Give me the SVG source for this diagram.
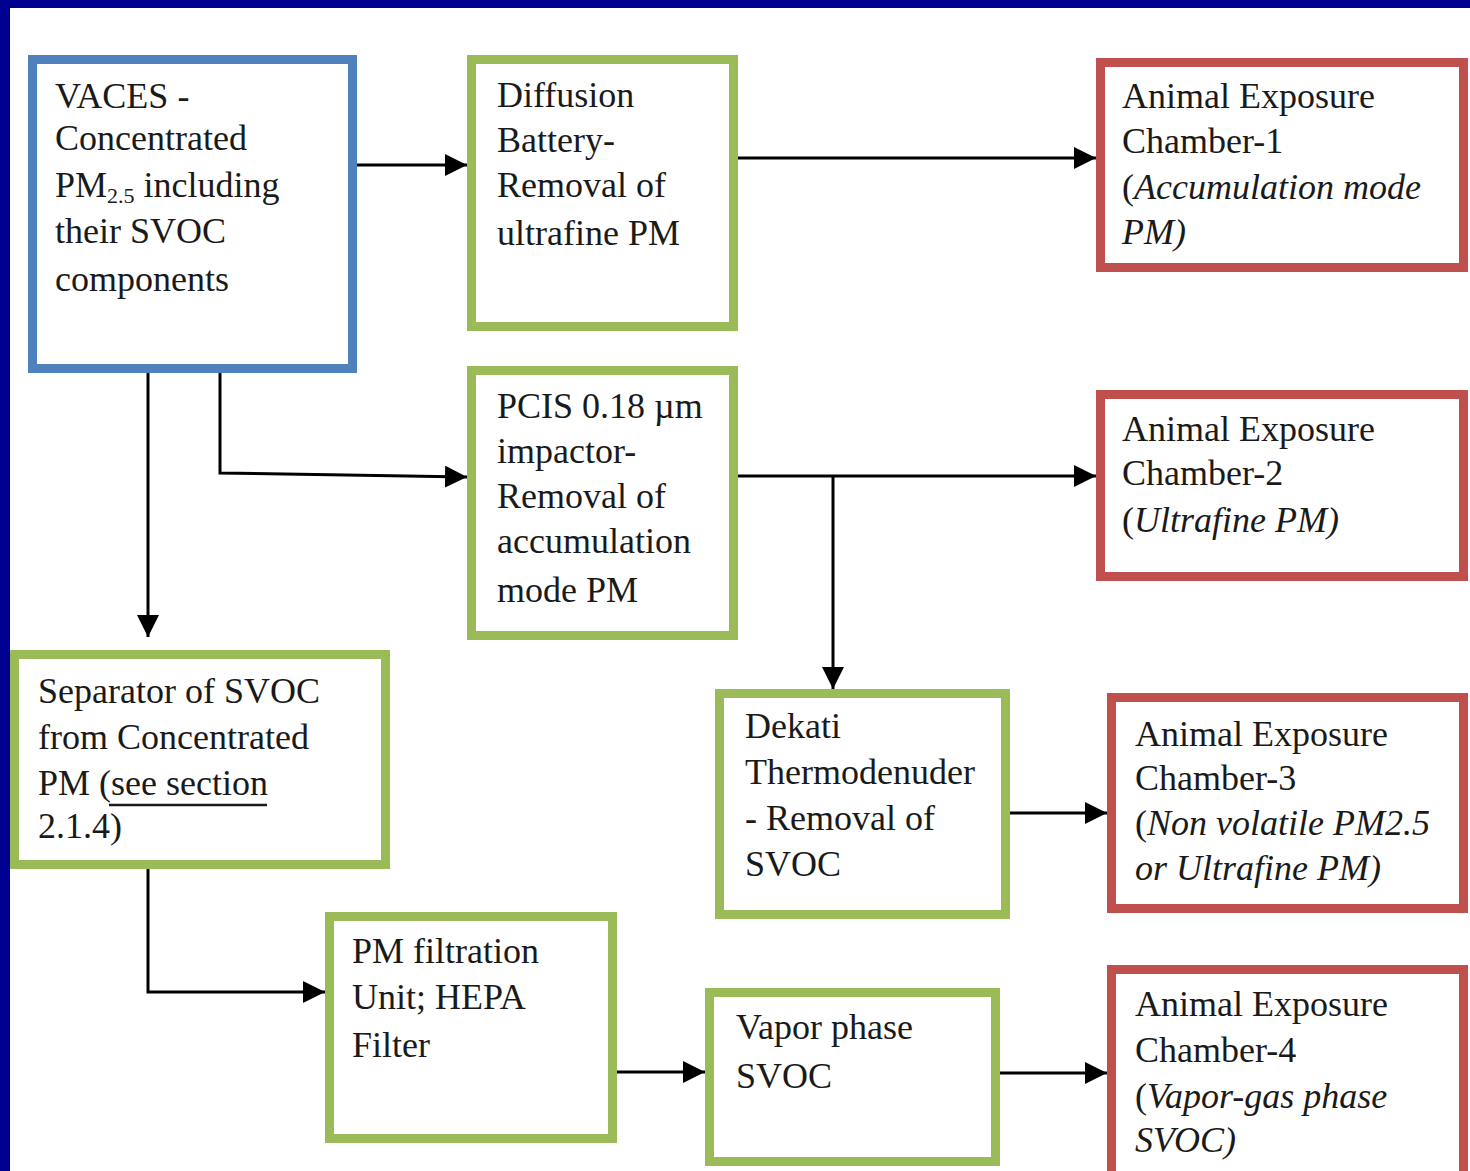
<svg xmlns="http://www.w3.org/2000/svg" width="1470" height="1171" viewBox="0 0 1470 1171">
<style>
text{font-family:"Liberation Serif","Times New Roman",serif;font-size:36px;fill:#1a1a1a}
.i{font-style:italic}
.box{fill:#ffffff;stroke-width:9}
.blue{stroke:#4F81BD}
.green{stroke:#9BBB59}
.red{stroke:#C0504D}
.conn{fill:none;stroke:#000;stroke-width:3}
</style>
<defs>
<marker id="ah" markerUnits="userSpaceOnUse" markerWidth="24" markerHeight="24" refX="22" refY="11" orient="auto">
<path d="M0,0 L22,11 L0,22 z" fill="#000"/>
</marker>
</defs>
<rect x="0" y="0" width="1470" height="1171" fill="#ffffff"/>
<rect x="0" y="0" width="1470" height="8" fill="#000090"/>
<rect x="0" y="0" width="10" height="1171" fill="#000090"/>

<g id="connectors">
<path class="conn" d="M357,165 H467" marker-end="url(#ah)"/>
<path class="conn" d="M738,158 H1096" marker-end="url(#ah)"/>
<path class="conn" d="M220,373 V473 L467,477" marker-end="url(#ah)"/>
<path class="conn" d="M148,373 V637" marker-end="url(#ah)"/>
<path class="conn" d="M738,476 H1096" marker-end="url(#ah)"/>
<path class="conn" d="M833,476 V689" marker-end="url(#ah)"/>
<path class="conn" d="M1010,813 H1107" marker-end="url(#ah)"/>
<path class="conn" d="M148,869 V992 H325" marker-end="url(#ah)"/>
<path class="conn" d="M617,1072 H705" marker-end="url(#ah)"/>
<path class="conn" d="M1000,1073 H1107" marker-end="url(#ah)"/>
</g>

<g id="vaces">
<rect class="box blue" x="32.5" y="59.5" width="320" height="309"/>
<text x="55" y="108">VACES -</text>
<text x="55" y="150">Concentrated</text>
<text x="55" y="197">PM<tspan font-size="22" dy="6">2.5</tspan><tspan dy="-6"> including</tspan></text>
<text x="55" y="243">their SVOC</text>
<text x="55" y="291">components</text>
</g>

<g id="diffusion">
<rect class="box green" x="471.5" y="59.5" width="262" height="267"/>
<text x="497" y="107">Diffusion</text>
<text x="497" y="152">Battery-</text>
<text x="497" y="197">Removal of</text>
<text x="497" y="245">ultrafine PM</text>
</g>

<g id="chamber1">
<rect class="box red" x="1100.5" y="62.5" width="363" height="205"/>
<text x="1122" y="108">Animal Exposure</text>
<text x="1122" y="153">Chamber-1</text>
<text x="1122" y="199">(<tspan class="i">Accumulation mode</tspan></text>
<text x="1122" y="244" class="i">PM)</text>
</g>

<g id="pcis">
<rect class="box green" x="471.5" y="370.5" width="262" height="265"/>
<text x="497" y="418">PCIS 0.18 µm</text>
<text x="497" y="463">impactor-</text>
<text x="497" y="508">Removal of</text>
<text x="497" y="553">accumulation</text>
<text x="497" y="602">mode PM</text>
</g>

<g id="chamber2">
<rect class="box red" x="1100.5" y="394.5" width="363" height="182"/>
<text x="1122" y="441">Animal Exposure</text>
<text x="1122" y="485">Chamber-2</text>
<text x="1122" y="532">(<tspan class="i">Ultrafine PM)</tspan></text>
</g>

<g id="separator">
<rect class="box green" x="14.5" y="654.5" width="371" height="210"/>
<text x="38" y="703">Separator of SVOC</text>
<text x="38" y="749">from Concentrated</text>
<text x="38" y="795">PM (see section</text>
<line x1="109" y1="805" x2="267" y2="805" stroke="#1a1a1a" stroke-width="2.5"/>
<text x="38" y="838">2.1.4)</text>
</g>

<g id="dekati">
<rect class="box green" x="719.5" y="693.5" width="286" height="221"/>
<text x="745" y="738">Dekati</text>
<text x="745" y="784">Thermodenuder</text>
<text x="745" y="830">- Removal of</text>
<text x="745" y="876">SVOC</text>
</g>

<g id="chamber3">
<rect class="box red" x="1111.5" y="697.5" width="352" height="211"/>
<text x="1135" y="746">Animal Exposure</text>
<text x="1135" y="790">Chamber-3</text>
<text x="1135" y="835">(<tspan class="i">Non volatile PM2.5</tspan></text>
<text x="1135" y="880" class="i">or Ultrafine PM)</text>
</g>

<g id="pmfiltration">
<rect class="box green" x="329.5" y="916.5" width="283" height="222"/>
<text x="352" y="963">PM filtration</text>
<text x="352" y="1009">Unit; HEPA</text>
<text x="352" y="1057">Filter</text>
</g>

<g id="vapor">
<rect class="box green" x="709.5" y="992.5" width="286" height="169"/>
<text x="736" y="1039">Vapor phase</text>
<text x="736" y="1088">SVOC</text>
</g>

<g id="chamber4">
<rect class="box red" x="1111.5" y="969.5" width="352" height="215"/>
<text x="1135" y="1016">Animal Exposure</text>
<text x="1135" y="1062">Chamber-4</text>
<text x="1135" y="1108">(<tspan class="i">Vapor-gas phase</tspan></text>
<text x="1135" y="1152" class="i">SVOC)</text>
</g>
</svg>
